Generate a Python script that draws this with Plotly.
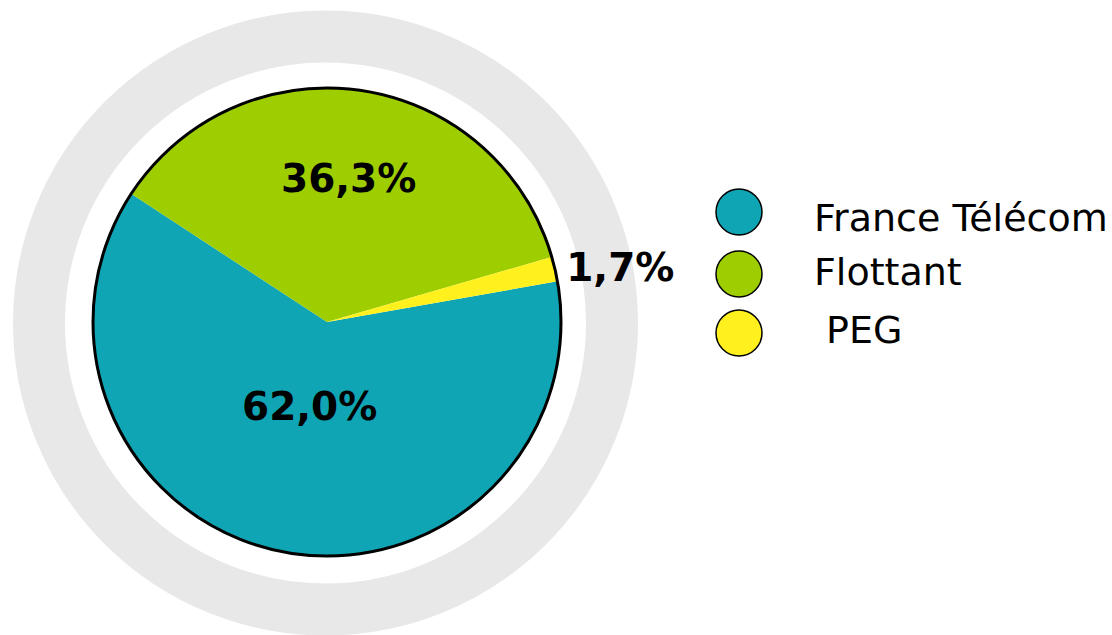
import math
import plotly.graph_objects as go

# data
labels = ["France Télécom", "Flottant", "PEG"]
values = [62.0, 36.3, 1.7]
colors = ["#10A5B4", "#9ECE00", "#FFF01E"]
legend_labels = ["France Télécom", "Flottant", "\u00a0PEG"]

W, H = 1112, 635
CX, CY, R = 327, 322, 234   # pie centre / radius in px
ROTATION = 80
label_radius = [0.37, 0.62, None]   # fraction of R for inside labels


def px_domain(cx, cy, r):
    """paper domain for a circle given in pixels (y from top)"""
    return dict(x=[(cx - r) / W, (cx + r) / W],
                y=[(H - cy - r) / H, (H - cy + r) / H])


pie_dom = px_domain(CX, CY, R)
pct_text = [f"{v:.1f}%".replace(".", ",") for v in values]
label_font = dict(family="DejaVu Sans", size=39, color="black", weight="bold")

fig = go.Figure()

# main pie (only the small slice gets its text from plotly, outside)
fig.add_trace(go.Pie(
    labels=labels, values=values, text=pct_text,
    texttemplate="%{text}",
    textposition=["none" if f else "outside" for f in label_radius],
    marker=dict(colors=colors, line=dict(width=0)),
    textfont=label_font,
    sort=False, direction="clockwise", rotation=ROTATION,
    domain=pie_dom, showlegend=False, hoverinfo="label+percent",
))

# black outline around the pie
fig.add_trace(go.Pie(
    values=[1], labels=["outline"], textinfo="none",
    marker=dict(colors=["rgba(0,0,0,0)"], line=dict(color="black", width=3)),
    domain=pie_dom, showlegend=False, hoverinfo="skip", sort=False,
))

# inside labels on the slice bisectors
total = sum(values)
start = ROTATION
for v, txt, frac in zip(values, pct_text, label_radius):
    span = v / total * 360
    if frac:
        a = math.radians(start + span / 2)
        fig.add_annotation(
            x=CX + frac * R * math.sin(a), y=CY - frac * R * math.cos(a),
            xref="x", yref="y", text=txt, showarrow=False, font=label_font,
        )
    start += span

# legend drawn as markers + text
fig.add_trace(go.Scatter(
    x=[739] * 3, y=[212, 274, 333], mode="markers",
    marker=dict(size=46, color=colors, line=dict(color="black", width=1.5)),
    hoverinfo="skip", showlegend=False, cliponaxis=False,
))
fig.add_trace(go.Scatter(
    x=[814] * 3, y=[221, 275, 333], mode="text", text=legend_labels,
    textposition="middle right",
    textfont=dict(family="DejaVu Sans", size=38, color="black"),
    hoverinfo="skip", showlegend=False, cliponaxis=False,
))

# grey ring behind everything
ring_r = 286.5
fig.add_shape(type="circle", xref="paper", yref="paper", layer="below",
              x0=(325.5 - ring_r) / W, x1=(325.5 + ring_r) / W,
              y0=(H - 323 - ring_r) / H, y1=(H - 323 + ring_r) / H,
              line=dict(color="#E8E8E8", width=52))

fig.update_layout(
    width=W, height=H,
    margin=dict(l=0, r=0, t=0, b=0),
    paper_bgcolor="white", plot_bgcolor="rgba(0,0,0,0)",
    xaxis=dict(range=[0, W], visible=False, domain=[0, 1]),
    yaxis=dict(range=[H, 0], visible=False, domain=[0, 1]),
)

fig.write_html("out.html", config={"displayModeBar": False},
               post_script="document.body.style.margin='0';")
